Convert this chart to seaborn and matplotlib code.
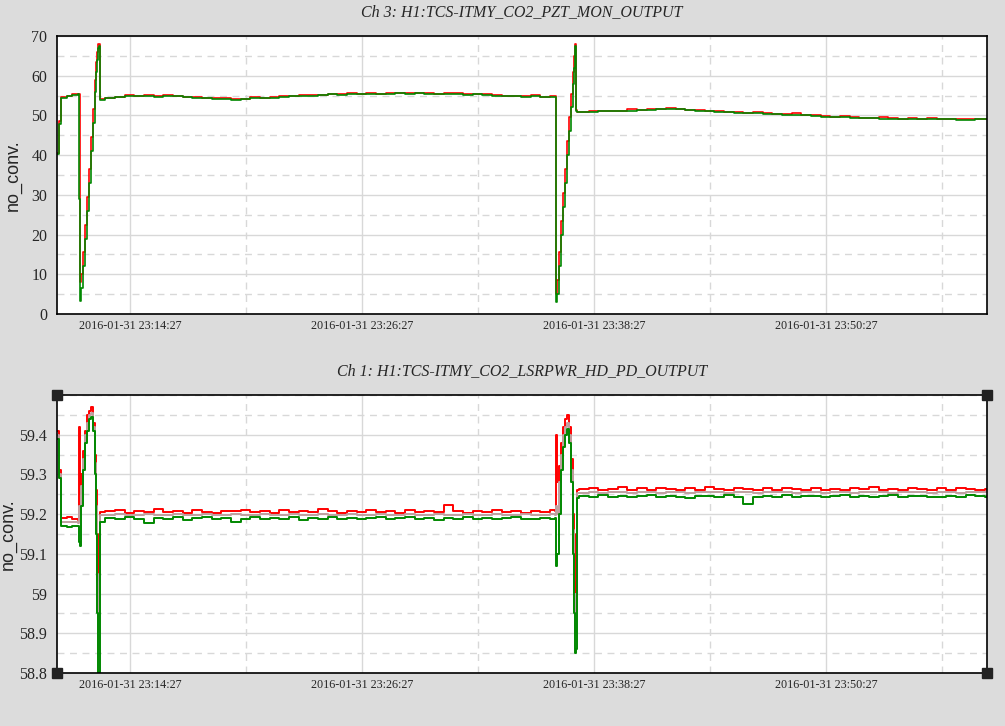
import pandas as pd
import matplotlib
matplotlib.use('Agg')
import matplotlib.pyplot as plt
import matplotlib.dates as mdates
import seaborn as sns

# time axis: minutes after 2016-01-31 23:10:40
start_time = '2016-01-31 23:10:40'
minutes = [
    0, 0.08, 0.21, 0.5, 0.8, 1.10, 1.14, 1.19, 1.24, 1.34,
    1.45, 1.55, 1.66, 1.76, 1.86, 1.97, 2.02, 2.07, 2.12, 2.17,
    2.22, 2.5, 3.0, 3.5, 4.0, 4.5, 5.0, 5.5, 6.0, 6.5,
    7.0, 7.5, 8.0, 8.5, 9.0, 9.5, 10.0, 10.5, 11.0, 11.5,
    12.0, 12.5, 13.0, 13.5, 14.0, 14.5, 15.0, 15.5, 16.0, 16.5,
    17.0, 17.5, 18.0, 18.5, 19.0, 19.5, 20.0, 20.5, 21.0, 21.5,
    22.0, 22.5, 23.0, 23.5, 24.0, 24.5, 25.0, 25.5, 25.78, 25.81,
    25.86, 25.96, 26.06, 26.17, 26.27, 26.37, 26.48, 26.58, 26.68, 26.74,
    26.80, 26.85, 26.90, 27.0, 27.5, 28.0, 28.5, 29.0, 29.5, 30.0,
    30.5, 31.0, 31.5, 32.0, 32.5, 33.0, 33.5, 34.0, 34.5, 35.0,
    35.5, 36.0, 36.5, 37.0, 37.5, 38.0, 38.5, 39.0, 39.5, 40.0,
    40.5, 41.0, 41.5, 42.0, 42.5, 43.0, 43.5, 44.0, 44.5, 45.0,
    45.5, 46.0, 46.5, 47.0, 47.5, 48.0, 48.1,
]

# Ch 3: H1:TCS-ITMY_CO2_PZT_MON_OUTPUT
pzt_max = [
    40.6, 48.5, 54.6, 55.0, 55.3, 55.5, 55.5, 8.0, 10.0, 15.5,
    22.5, 29.5, 36.5, 44.5, 51.5, 59.0, 63.5, 66.0, 68.0, 68.0,
    54.2, 54.4, 54.7, 55.1, 55.0, 55.1, 54.8, 55.2, 54.9, 54.7,
    54.6, 54.4, 54.4, 54.3, 54.1, 54.2, 54.6, 54.5, 54.6, 54.8,
    54.9, 55.2, 55.1, 55.2, 55.4, 55.3, 55.7, 55.5, 55.6, 55.5,
    55.6, 55.7, 55.7, 55.7, 55.6, 55.4, 55.6, 55.7, 55.3, 55.4,
    55.4, 55.1, 55.0, 54.9, 54.8, 55.1, 54.7, 54.8, 54.8, 5.0,
    8.5, 15.5, 23.5, 30.5, 36.5, 43.5, 49.5, 55.5, 61.0, 65.0,
    68.0, 51.3, 50.9, 50.9, 51.2, 51.1, 51.2, 51.1, 51.5, 51.4,
    51.5, 51.6, 51.9, 51.6, 51.4, 51.3, 51.1, 51.2, 50.9, 50.8,
    50.7, 50.9, 50.5, 50.4, 50.3, 50.5, 50.1, 50.0, 49.8, 49.7,
    49.8, 49.5, 49.4, 49.4, 49.5, 49.3, 49.2, 49.3, 49.2, 49.3,
    49.2, 49.1, 49.2, 49.0, 49.1, 49.2, 49.1,
]
pzt_min = [
    40.2, 47.8, 54.3, 54.8, 55.2, 55.4, 29.0, 3.2, 6.5, 12.0,
    19.0, 26.0, 33.0, 41.0, 48.0, 56.0, 61.0, 64.0, 67.0, 67.5,
    54.0, 54.3, 54.6, 54.8, 54.9, 55.0, 54.7, 54.9, 54.8, 54.6,
    54.5, 54.3, 54.1, 54.2, 54.0, 54.1, 54.3, 54.4, 54.5, 54.7,
    54.8, 54.9, 55.0, 55.1, 55.3, 55.2, 55.4, 55.4, 55.5, 55.4,
    55.5, 55.6, 55.4, 55.6, 55.5, 55.3, 55.5, 55.4, 55.2, 55.3,
    55.1, 55.0, 54.9, 54.8, 54.7, 54.8, 54.6, 54.7, 54.6, 3.0,
    5.0, 12.0, 20.0, 27.0, 33.0, 40.0, 46.0, 52.0, 58.0, 62.0,
    67.5, 51.0, 50.8, 50.8, 50.9, 51.0, 51.1, 51.0, 51.2, 51.3,
    51.4, 51.5, 51.6, 51.5, 51.3, 51.2, 51.0, 50.9, 50.8, 50.7,
    50.6, 50.6, 50.4, 50.3, 50.2, 50.2, 50.0, 49.9, 49.7, 49.6,
    49.5, 49.4, 49.3, 49.3, 49.2, 49.2, 49.1, 49.2, 49.1, 49.0,
    49.1, 49.0, 48.9, 48.9, 49.0, 49.1, 49.0,
]

# Ch 1: H1:TCS-ITMY_CO2_LSRPWR_HD_PD_OUTPUT
pd_max = [
    59.41, 59.31, 59.19, 59.192, 59.188, 59.185, 59.42, 59.25, 59.30, 59.36,
    59.41, 59.45, 59.46, 59.47, 59.43, 59.35, 59.26, 59.10, 58.92, 59.15,
    59.205, 59.207, 59.211, 59.204, 59.209, 59.206, 59.212, 59.205, 59.208, 59.203,
    59.210, 59.206, 59.204, 59.209, 59.207, 59.211, 59.205, 59.208, 59.204, 59.210,
    59.206, 59.209, 59.205, 59.212, 59.207, 59.204, 59.209, 59.206, 59.211, 59.205,
    59.208, 59.203, 59.210, 59.206, 59.209, 59.205, 59.222, 59.207, 59.204, 59.209,
    59.206, 59.211, 59.205, 59.208, 59.204, 59.209, 59.206, 59.210, 59.207, 59.40,
    59.28, 59.32, 59.38, 59.42, 59.44, 59.45, 59.42, 59.34, 59.20, 59.03,
    58.95, 59.15, 59.262, 59.263, 59.266, 59.261, 59.264, 59.268, 59.262, 59.265,
    59.261, 59.267, 59.263, 59.260, 59.265, 59.262, 59.268, 59.264, 59.261, 59.266,
    59.263, 59.260, 59.265, 59.262, 59.267, 59.263, 59.261, 59.266, 59.262, 59.264,
    59.260, 59.265, 59.263, 59.269, 59.262, 59.264, 59.261, 59.266, 59.263, 59.260,
    59.265, 59.262, 59.267, 59.263, 59.261, 59.264, 59.262,
]
pd_mean = [
    59.40, 59.30, 59.18, 59.181, 59.18, 59.178, 59.22, 59.20, 59.27, 59.34,
    59.40, 59.43, 59.45, 59.455, 59.42, 59.33, 59.22, 59.03, 58.86, 59.05,
    59.197, 59.199, 59.200, 59.198, 59.199, 59.200, 59.199, 59.198, 59.200, 59.199,
    59.198, 59.200, 59.199, 59.199, 59.200, 59.198, 59.199, 59.200, 59.199, 59.198,
    59.200, 59.199, 59.198, 59.200, 59.199, 59.199, 59.200, 59.198, 59.199, 59.200,
    59.199, 59.198, 59.200, 59.199, 59.199, 59.200, 59.198, 59.199, 59.200, 59.199,
    59.198, 59.200, 59.199, 59.199, 59.200, 59.198, 59.199, 59.200, 59.199, 59.22,
    59.20, 59.28, 59.35, 59.40, 59.42, 59.43, 59.40, 59.31, 59.16, 59.00,
    58.90, 59.00, 59.253, 59.254, 59.255, 59.254, 59.255, 59.256, 59.254, 59.255,
    59.255, 59.254, 59.256, 59.255, 59.254, 59.255, 59.256, 59.255, 59.254, 59.255,
    59.256, 59.254, 59.255, 59.255, 59.256, 59.254, 59.255, 59.255, 59.254, 59.256,
    59.255, 59.254, 59.255, 59.256, 59.255, 59.254, 59.255, 59.256, 59.255, 59.254,
    59.255, 59.256, 59.254, 59.255, 59.255, 59.256, 59.255,
]
pd_min = [
    59.39, 59.29, 59.17, 59.168, 59.171, 59.169, 59.13, 59.12, 59.22, 59.31,
    59.38, 59.41, 59.44, 59.445, 59.41, 59.30, 59.15, 58.95, 58.78, 58.78,
    59.18, 59.190, 59.187, 59.192, 59.189, 59.178, 59.191, 59.188, 59.193, 59.186,
    59.190, 59.192, 59.188, 59.191, 59.180, 59.189, 59.193, 59.187, 59.190, 59.188,
    59.192, 59.186, 59.190, 59.189, 59.193, 59.187, 59.191, 59.188, 59.190, 59.192,
    59.187, 59.190, 59.193, 59.188, 59.191, 59.186, 59.190, 59.189, 59.192, 59.187,
    59.191, 59.188, 59.190, 59.193, 59.187, 59.189, 59.191, 59.188, 59.190, 59.07,
    59.10, 59.20, 59.31, 59.37, 59.40, 59.415, 59.38, 59.28, 59.10, 58.95,
    58.85, 58.86, 59.24, 59.245, 59.243, 59.247, 59.244, 59.246, 59.242, 59.245,
    59.247, 59.243, 59.246, 59.244, 59.241, 59.246, 59.245, 59.243, 59.247, 59.244,
    59.225, 59.242, 59.246, 59.244, 59.247, 59.243, 59.245, 59.246, 59.243, 59.245,
    59.247, 59.244, 59.246, 59.242, 59.245, 59.247, 59.243, 59.245, 59.246, 59.244,
    59.243, 59.246, 59.244, 59.247, 59.245, 59.243, 59.246,
]

x_major = ['2016-01-31 23:14:27', '2016-01-31 23:26:27',
           '2016-01-31 23:38:27', '2016-01-31 23:50:27']
x_minor = ['2016-01-31 23:20:27', '2016-01-31 23:32:27',
           '2016-01-31 23:44:27', '2016-01-31 23:56:27']
x_end = '2016-01-31 23:58:46'

pzt_yticks = [0, 10, 20, 30, 40, 50, 60, 70]
pzt_yminor = [5, 15, 25, 35, 45, 55, 65]
pd_yticks = [58.8, 58.9, 59.0, 59.1, 59.2, 59.3, 59.4]
pd_yminor = [58.85, 58.95, 59.05, 59.15, 59.25, 59.35, 59.45, 59.5]

titles = ['Ch 3: H1:TCS-ITMY_CO2_PZT_MON_OUTPUT',
          'Ch 1: H1:TCS-ITMY_CO2_LSRPWR_HD_PD_OUTPUT']
trace_colors = {'max': '#ff0000', 'mean': '#bfa0a0', 'min': '#008800'}


def build_frame(traces):
    """long-form frame with one row per sample and trace"""
    times = pd.Timestamp(start_time) + pd.to_timedelta(minutes, unit='m')
    frames = []
    for name, values in traces.items():
        frames.append(pd.DataFrame({'time': times, 'value': values, 'trace': name}))
    return pd.concat(frames, ignore_index=True)


def style_panel(ax, title, yticks, yminor, ylim, label_x):
    ax.set_facecolor('white')
    ax.set_xlim(pd.Timestamp(start_time), pd.Timestamp(x_end))
    ax.set_ylim(*ylim)
    ax.set_xticks(pd.to_datetime(x_major))
    ax.set_xticks(pd.to_datetime(x_minor), minor=True)
    ax.xaxis.set_major_formatter(mdates.DateFormatter('%Y-%m-%d %H:%M:%S'))
    ax.set_yticks(yticks)
    ax.set_yticks(yminor, minor=True)
    ax.yaxis.set_major_formatter(plt.FuncFormatter(lambda v, p: f'{v:g}'))
    ax.grid(which='major', color='#d8d8d8', lw=1.0, ls='-')
    ax.grid(which='minor', color='#d8d8d8', lw=1.0, ls=(0, (5, 4)))
    ax.set_axisbelow(True)
    ax.tick_params(axis='both', which='both', length=0)
    ax.tick_params(axis='y', labelsize=11.5, pad=7)
    ax.tick_params(axis='x', labelsize=8.7, pad=4.5)
    for label in ax.get_xticklabels() + ax.get_yticklabels():
        label.set_fontfamily('Liberation Serif')
    for spine in ax.spines.values():
        spine.set_visible(True)
        spine.set_color('black')
        spine.set_linewidth(1.2)
    ax.set_title(title, fontsize=11.5, style='italic', family='Liberation Serif', pad=14)
    ax.set_xlabel('')
    ax.set_ylabel('no_conv.', family='Liberation Sans', fontsize=13)
    ax.yaxis.set_label_coords(label_x, 0.5)


sns.set_style('white')
plt.rcParams['font.family'] = ['Liberation Serif', 'DejaVu Serif']

fig = plt.figure(figsize=(10.05, 7.26), dpi=100, facecolor='#dcdcdc')
ax_top = fig.add_axes([0.0567, 0.5675, 0.9254, 0.3829])
ax_bot = fig.add_axes([0.0567, 0.0730, 0.9254, 0.3829])

top_data = build_frame({'max': pzt_max, 'min': pzt_min})
bot_data = build_frame({'max': pd_max, 'mean': pd_mean, 'min': pd_min})

sns.lineplot(data=top_data, x='time', y='value', hue='trace', hue_order=['max', 'min'],
             palette=trace_colors, estimator=None, sort=False, drawstyle='steps-post',
             linewidth=1.2, legend=False, ax=ax_top)
sns.lineplot(data=bot_data, x='time', y='value', hue='trace', hue_order=['max', 'mean', 'min'],
             palette=trace_colors, estimator=None, sort=False, drawstyle='steps-post',
             linewidth=1.4, legend=False, ax=ax_bot)

style_panel(ax_top, titles[0], pzt_yticks, pzt_yminor, (0, 70), -0.0376)
style_panel(ax_bot, titles[1], pd_yticks, pd_yminor, (58.8, 59.5), -0.043)

# selection handles on the corners of the lower panel
ax_bot.plot([0, 0, 1, 1], [0, 1, 0, 1], 's', color='#222222', markersize=6.5,
            transform=ax_bot.transAxes, clip_on=False, zorder=5)

fig.savefig('out.png', dpi=100, facecolor=fig.get_facecolor())
